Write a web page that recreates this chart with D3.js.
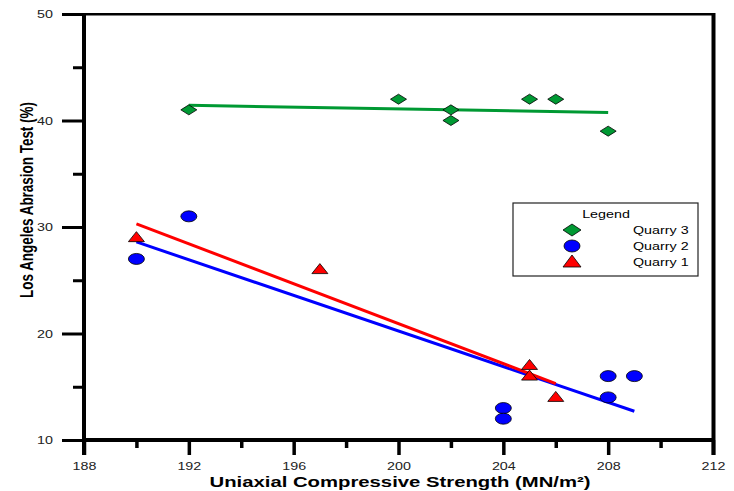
<!DOCTYPE html>
<html><head><meta charset="utf-8">
<script src="https://cdn.jsdelivr.net/npm/d3@7"></script>
<style>body{margin:0;background:#fff}svg{display:block}</style>
</head><body>
<svg id="c" width="734" height="491"></svg>
<script>
// Data
const q3x = [192, 200, 202, 202, 205, 206, 208];
const q3y = [41, 42, 41, 40, 42, 42, 39];
const q2x = [192, 190, 204, 204, 208, 208, 209];
const q2y = [31, 27, 13, 12, 16, 14, 16];
const q1x = [190, 197, 205, 205, 206];
const q1y = [29, 26, 17, 16, 14];
// fitted lines [x0, y0, x1, y1]
const fit3 = [192, 41.43, 208, 40.75];
const fit2 = [190, 28.6, 209, 12.7];
const fit1 = [190, 30.3, 206, 15.3];
const xTicks = [188, 192, 196, 200, 204, 208, 212];
const xMinor = [190, 194, 198, 202, 206, 210];
const yTicks = [10, 20, 30, 40, 50];
const yMinor = [15, 25, 35, 45];
const legendNames = ["Quarry 3", "Quarry 2", "Quarry 1"];

const svg = d3.select("#c");
const L = 84, R = 713, T = 14, B = 440;
const x = d3.scaleLinear().domain([188, 212]).range([L, R]);
const y = d3.scaleLinear().domain([10, 50]).range([B, T]);
const font = "Arial, 'Liberation Sans', sans-serif";
const green = "#009933", blue = "#0000ff", red = "#ff0000";
const SX = 1.3; // horizontal text stretch

// frame drawn as filled rects
svg.append("rect").attr("x", L - 1).attr("y", T - 1).attr("width", R - L + 3).attr("height", 2.5).attr("fill", "#000");
svg.append("rect").attr("x", R - 1.5).attr("y", T - 1).attr("width", 4).attr("height", B - T + 16).attr("fill", "#000");
svg.append("rect").attr("x", L - 2).attr("y", T - 1).attr("width", 4).attr("height", B - T + 16).attr("fill", "#000");
svg.append("rect").attr("x", L - 2).attr("y", B - 2).attr("width", R - L + 4).attr("height", 4).attr("fill", "#000");

// x axis ticks
const xAx = svg.append("g").attr("transform", `translate(0,${B})`)
  .call(d3.axisBottom(x).tickValues(xTicks).tickSize(15).tickFormat(d3.format("d")));
xAx.select(".domain").remove();
xAx.selectAll(".tick line").attr("stroke", "#000").attr("stroke-width", 3.5);
xAx.selectAll(".tick text").attr("font-family", font).attr("font-size", 11).attr("fill", "#222")
  .attr("y", 22).attr("transform", `scale(${SX},1)`);
const xMin = svg.append("g").attr("transform", `translate(0,${B})`)
  .call(d3.axisBottom(x).tickValues(xMinor).tickSize(8).tickFormat(""));
xMin.select(".domain").remove();
xMin.selectAll(".tick line").attr("stroke", "#000").attr("stroke-width", 3.5);

// y axis ticks
const yAx = svg.append("g").attr("transform", `translate(${L},0)`)
  .call(d3.axisLeft(y).tickValues(yTicks).tickSize(22).tickFormat(d3.format("d")));
yAx.select(".domain").remove();
yAx.selectAll(".tick line").attr("stroke", "#000").attr("stroke-width", 3);
yAx.selectAll(".tick text").attr("font-family", font).attr("font-size", 11).attr("fill", "#222")
  .attr("x", -31 / SX).attr("transform", `scale(${SX},1)`);
const yMin = svg.append("g").attr("transform", `translate(${L},0)`)
  .call(d3.axisLeft(y).tickValues(yMinor).tickSize(11).tickFormat(""));
yMin.select(".domain").remove();
yMin.selectAll(".tick line").attr("stroke", "#000").attr("stroke-width", 3);

// axis titles
svg.append("text").attr("x", 400).attr("y", 487).attr("text-anchor", "middle")
  .attr("font-family", font).attr("font-weight", "bold").attr("font-size", 15)
  .attr("textLength", 381).attr("lengthAdjust", "spacingAndGlyphs")
  .text("Uniaxial Compressive Strength (MN/m²)");
svg.append("text").attr("transform", "translate(33,200) rotate(-90) scale(1,1.25)").attr("text-anchor", "middle")
  .attr("font-family", font).attr("font-weight", "bold").attr("font-size", 14)
  .attr("textLength", 196).attr("lengthAdjust", "spacingAndGlyphs")
  .text("Los Angeles Abrasion Test (%)");

// fit lines
function fitLine(f, c) {
  svg.append("line").attr("x1", x(f[0])).attr("y1", y(f[1])).attr("x2", x(f[2])).attr("y2", y(f[3]))
    .attr("stroke", c).attr("stroke-width", 3);
}
fitLine(fit3, green); fitLine(fit2, blue); fitLine(fit1, red);

// markers
const diamond = "M0,-5L8,0L0,5L-8,0Z";
const tri = "M0,-6L8,4L-8,4Z";
function drawPts(xs, ys, kind, c) {
  const g = svg.append("g");
  xs.forEach((xv, i) => {
    const px = x(xv), py = y(ys[i]);
    if (kind === "c") {
      g.append("ellipse").attr("cx", px).attr("cy", py).attr("rx", 8).attr("ry", 5.5)
        .attr("fill", c).attr("stroke", "#000").attr("stroke-width", 0.8);
    } else {
      g.append("path").attr("d", kind === "d" ? diamond : tri).attr("transform", `translate(${px},${py})`)
        .attr("fill", c).attr("stroke", "#000").attr("stroke-width", 0.8);
    }
  });
}
drawPts(q3x, q3y, "d", green);
drawPts(q2x, q2y, "c", blue);
drawPts(q1x, q1y, "t", red);

// legend
const lg = svg.append("g");
lg.append("rect").attr("x", 513).attr("y", 203).attr("width", 185).attr("height", 73)
  .attr("fill", "#fff").attr("stroke", "#222").attr("stroke-width", 1.2);
lg.append("text").attr("transform", `translate(606,218) scale(${SX},1)`).attr("text-anchor", "middle")
  .attr("font-family", font).attr("font-size", 11).text("Legend");
const rows = [230, 246, 262];
const kinds = ["d", "c", "t"], cols = [green, blue, red];
rows.forEach((ry, i) => {
  if (kinds[i] === "c") {
    lg.append("ellipse").attr("cx", 572).attr("cy", ry).attr("rx", 8).attr("ry", 6)
      .attr("fill", cols[i]).attr("stroke", "#000").attr("stroke-width", 0.8);
  } else {
    lg.append("path").attr("d", kinds[i] === "d" ? "M0,-6L9,0L0,6L-9,0Z" : "M0,-7L9,5L-9,5Z")
      .attr("transform", `translate(572,${ry})`)
      .attr("fill", cols[i]).attr("stroke", "#000").attr("stroke-width", 0.8);
  }
  lg.append("text").attr("transform", `translate(633,${ry + 4}) scale(${SX},1)`)
    .attr("font-family", font).attr("font-size", 11).text(legendNames[i]);
});
</script>
</body></html>
